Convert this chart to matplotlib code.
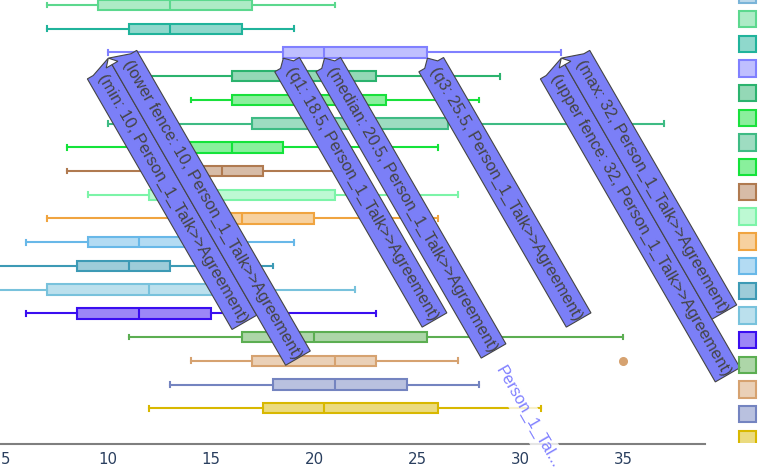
import numpy as np
import matplotlib
matplotlib.use("Agg")
import matplotlib.pyplot as plt
from matplotlib.patches import Polygon, Rectangle
from matplotlib.textpath import TextPath
from matplotlib.font_manager import FontProperties
from matplotlib.transforms import ScaledTranslation
from matplotlib.colors import to_rgba

# one horizontal box per row, top row first.
# row -1 is scrolled out of view, only its legend swatch peeks in at the top
rows = list(range(-1, 18))
colors = ["#7ab4d8", "#5cd88e", "#20b39b", "#8080ff", "#2bb36e", "#19e13c",
          "#3ebb84", "#14e33a", "#b07a50", "#7cf4a8", "#f0a440", "#68b8e8",
          "#3d9ab5", "#78c2dc", "#3a0ef0", "#5cae52", "#d6a270", "#7484c0",
          "#d8b800"]
mins = [6, 7, 7, 10, 10.5, 14, 10, 8, 8, 9, 7, 6, 4.5, 4, 6, 11, 14, 13, 12]
q1s = [9, 9.5, 11, 18.5, 16, 16, 17, 13, 13.5, 12, 14, 9, 8.5, 7, 8.5, 16.5, 17, 18, 17.5]
meds = [12, 13, 13, 20.5, 19.5, 20, 22, 16, 15.5, 14.5, 16.5, 11.5, 11, 12, 11.5, 20, 21, 21, 20.5]
q3s = [16, 17, 16.5, 25.5, 23, 23.5, 26.5, 18.5, 17.5, 21, 20, 15, 13, 16, 15, 25.5, 23, 24.5, 26]
maxs = [20, 21, 19, 32, 29, 28, 37, 26, 22, 27, 26, 19, 18, 22, 23, 35, 27, 28, 31]
outliers = [[], [], [], [], [], [], [], [], [], [], [], [], [], [], [], [], [35], [], []]

# hover labels of the lavender box
hover_name = "Person_1_Talk>>Agreement"
hover_row = 2
hover_stats = ["min", "lower fence", "q1", "median", "q3", "upper fence", "max"]
hover_vals = [10, 10, 18.5, 20.5, 25.5, 32, 32]
hover_side = [-1, 1, 0, 0, 0, -1, 1]

DPI = 100
fig = plt.figure(figsize=(7.66, 4.73), dpi=DPI)
ax = fig.add_axes([0, (473 - 444.3) / 473, 705 / 766, 444.3 / 473])

box_w = 0.44
stats = []
for i in range(len(rows)):
    stats.append({"whislo": mins[i], "q1": q1s[i], "med": meds[i],
                  "q3": q3s[i], "whishi": maxs[i], "fliers": outliers[i]})

bp = ax.bxp(stats, positions=rows, widths=box_w, orientation="horizontal",
            patch_artist=True, capwidths=0.2, manage_ticks=False)
lw = 1.5
for i, c in enumerate(colors):
    bp["boxes"][i].set(facecolor=to_rgba(c, 0.5), edgecolor=c, linewidth=lw)
    bp["medians"][i].set(color=c, linewidth=lw)
    for j in (2 * i, 2 * i + 1):
        bp["whiskers"][j].set(color=c, linewidth=lw)
        bp["caps"][j].set(color=c, linewidth=lw)
    bp["fliers"][i].set(marker="o", markersize=5.5, markerfacecolor=c,
                        markeredgecolor=c, linestyle="none")

ax.set_xlim(4.74, 38.98)
ax.set_ylim(18.52, -0.211)
ax.set_yticks([])
ax.set_xticks([5, 10, 15, 20, 25, 30, 35])
ax.tick_params(axis="x", length=0, pad=5.8, labelsize=10.8, labelcolor="#2a3f5f")
for s in ("left", "right", "top"):
    ax.spines[s].set_visible(False)
ax.spines["bottom"].set(color="#7f7f7f", linewidth=1.5)

# rotated hover labels (text runs down-right at 60 degrees)
ang = np.deg2rad(60)
dvec = np.array([np.cos(ang), -np.sin(ang)])
nvec = np.array([np.sin(ang), np.cos(ang)])
fs_px = 16.5
hfont = FontProperties(family="Liberation Sans")
arrow, pad, hh = 7.5, 4.0, 14.25


def local(u, w):
    return u * dvec + w * nvec


for stat, val, side in zip(hover_stats, hover_vals, hover_side):
    label = f"({stat}: {val:g}, {hover_name})"
    tw = TextPath((0, 0), label, size=fs_px, prop=hfont).get_extents().width
    L = tw + 2 * pad
    w0 = side * hh
    shape = [(0, 0), (arrow, w0 - arrow), (arrow, w0 - hh), (arrow + L, w0 - hh),
             (arrow + L, w0 + hh), (arrow, w0 + hh), (arrow, w0 + arrow)]
    verts = np.array([local(u, w) for u, w in shape]) / DPI
    tip = (val, hover_row + box_w / 2 + 0.02)
    trans = fig.dpi_scale_trans + ScaledTranslation(tip[0], tip[1], ax.transData)
    ax.add_patch(Polygon(verts, closed=True, facecolor="#7b7ff7", edgecolor="#444444",
                         linewidth=0.8, transform=trans, clip_on=False, zorder=5))
    ox, oy = local(arrow + pad, w0)
    ax.annotate(label, xy=tip, xytext=(ox, oy), textcoords="offset pixels",
                rotation=-60, rotation_mode="anchor", ha="left", va="center",
                fontsize=fs_px * 72 / DPI, family="Liberation Sans", color="#444444",
                zorder=6, annotation_clip=False)

# axis hover label
ax.text(29.0, 15.25, "Person_1_Tal...", rotation=-60, rotation_mode="anchor",
        ha="left", va="center", fontsize=fs_px * 72 / DPI, family="Liberation Sans",
        color="#8080ff", zorder=6,
        bbox=dict(boxstyle="square,pad=0.3", facecolor="white", edgecolor="none", alpha=0.8))

# legend swatches (their labels are cut off at the right edge)
lax = fig.add_axes([720 / 766, (473 - 443) / 473, 46 / 766, 443 / 473])
lax.set_xlim(720, 766)
lax.set_ylim(443, 0)
lax.axis("off")
for k, c in enumerate(colors):
    yc = 19 + 24.7 * (k - 1)
    lax.add_patch(Rectangle((747.5 - 8.2, yc - 8.2), 16.4, 16.4, facecolor=to_rgba(c, 0.5),
                            edgecolor=c, linewidth=1.5))

fig.savefig("out.png", dpi=DPI)
